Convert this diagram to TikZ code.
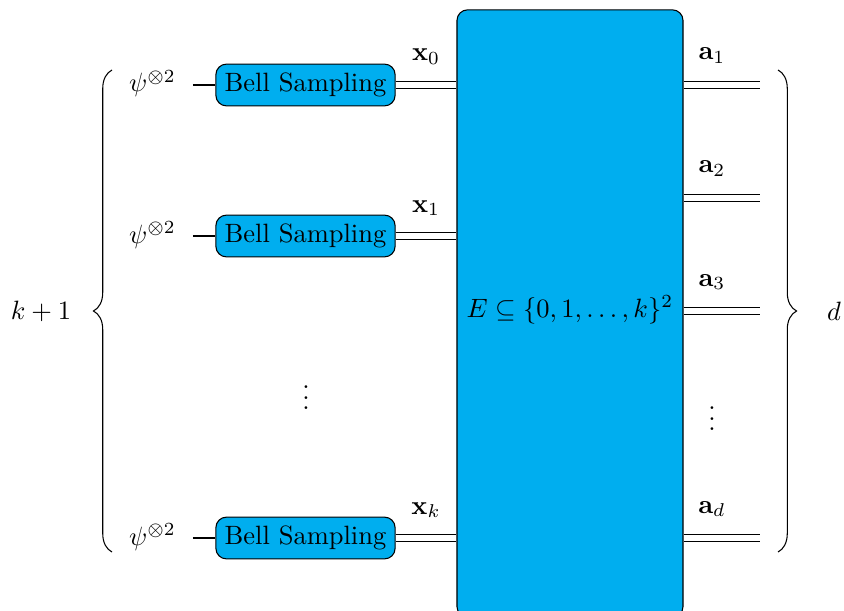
\documentclass[tikz,border=0pt]{standalone}
\usetikzlibrary{decorations.pathreplacing}
\definecolor{boxblue}{RGB}{0,174,239}
\begin{document}
\begin{tikzpicture}[x=0.3774pt,y=-0.3774pt,
  bell/.style={draw, fill=boxblue, rounded corners=4pt, inner sep=3.33pt},
  cwire/.style={double, double distance=2.2pt},
  lab/.style={anchor=base, inner sep=0pt},
  psin/.style={anchor=base, inner xsep=6.2pt, inner ysep=0pt},
  brc/.style={decorate, decoration={brace, amplitude=7pt}}]
\useasboundingbox (0,0) rectangle (844,610);
% big box
\node[draw, fill=boxblue, rounded corners=4pt, inner sep=0pt,
  minimum width=85.3pt, minimum height=229.2pt] (E) at (570,313.5) {};
\node (Et) at (570,310) {$E\subseteq\{0,1,\ldots,k\}^2$};
% left rows
\foreach \i/\yy/\sub in {0/85/0, 1/236/1, 2/538/k}{
  \node[bell] (b\i) at (305.5,\yy) {Bell Sampling};
  \node[psin] (p\i) at (152.5,\yy+7) {$\psi^{\otimes 2}$};
  \draw (p\i.east |- b\i) -- (b\i.west);
  \draw[cwire] (b\i.east) -- (b\i.east -| E.west);
  \node[lab] (x\i) at (426,\yy-24) {$\mathbf{x}_\sub$};
}
\node (vl) at (306,390) {$\vdots$};
% right rows
\foreach \i/\yy/\sub in {1/85/1, 2/198/2, 3/311/3, 4/538/d}{
  \coordinate (r\i) at (760,\yy);
  \draw[cwire] (r\i -| E.east) -- (r\i);
  \node[lab] (a\i) at (712,\yy-25) {$\mathbf{a}_\sub$};
}
\node (vr) at (712,411) {$\vdots$};
% braces
\coordinate (lbt) at (112,70);
\coordinate (lbb) at (112,552);
\draw[brc] (lbb) -- (lbt);
\node (kp) at (41,311) {$k+1$};
\coordinate (rbt) at (778,70);
\coordinate (rbb) at (778,552);
\draw[brc] (rbt) -- (rbb);
\node (dd) at (834,311) {$d$};
\end{tikzpicture}
\end{document}
